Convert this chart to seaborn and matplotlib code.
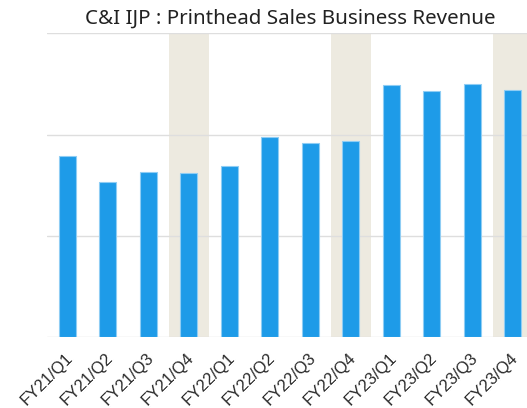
import matplotlib.pyplot as plt
import matplotlib.transforms as mtransforms
import pandas as pd
import seaborn as sns

QUARTERS = ["FY21/Q1", "FY21/Q2", "FY21/Q3", "FY21/Q4",
            "FY22/Q1", "FY22/Q2", "FY22/Q3", "FY22/Q4",
            "FY23/Q1", "FY23/Q2", "FY23/Q3", "FY23/Q4"]
REVENUE = [179, 153, 163, 162, 169, 198, 192, 194, 249, 243, 250, 244]
HIGHLIGHT = ["FY21/Q4", "FY22/Q4", "FY23/Q4"]
GRID_TICKS = [0, 100, 200, 300]

BAR_COLOR = "#1E9BE8"
BAND_COLOR = "#EDEAE0"
GRID_COLOR = "#DEDEDE"


def main():
    sns.set_style("white")
    df = pd.DataFrame({"quarter": QUARTERS, "revenue": REVENUE})

    fig = plt.figure(figsize=(5.27, 4.08), dpi=100)
    ax = fig.add_axes([47 / 527, 0.1733, 486 / 527, 0.745])

    for q in HIGHLIGHT:
        i = QUARTERS.index(q)
        ax.axvspan(i - 0.5, i + 0.5, color=BAND_COLOR, zorder=0, lw=0)

    sns.barplot(data=df, x="quarter", y="revenue", color=BAR_COLOR,
                width=0.41, edgecolor="#8FCDF4", linewidth=0.8,
                saturation=1, ax=ax, zorder=3)

    ax.set_xlim(-0.5, len(QUARTERS) - 0.5)
    ax.set_ylim(GRID_TICKS[0], GRID_TICKS[-1])
    ax.set_yticks(GRID_TICKS)
    ax.set_yticklabels([])
    ax.tick_params(axis="y", length=0)
    ax.tick_params(axis="x", length=0, pad=9)
    ax.yaxis.grid(True, color=GRID_COLOR, linewidth=1.0, zorder=1)
    ax.set_axisbelow(True)
    for side in ["top", "right", "left", "bottom"]:
        ax.spines[side].set_visible(False)

    ax.set_xlabel("")
    ax.set_ylabel("")
    ax.set_xticks(range(len(QUARTERS)))
    ax.set_xticklabels(QUARTERS, rotation=45, ha="right", rotation_mode="anchor",
                       fontsize=12, family="Liberation Sans", color="#2a2a2a")
    # nudge tick labels a couple of pixels left
    shift = mtransforms.ScaledTranslation(-0.025, 0, fig.dpi_scale_trans)
    for lbl in ax.get_xticklabels():
        lbl.set_transform(lbl.get_transform() + shift)

    ax.set_title("C&I IJP : Printhead Sales Business Revenue", fontsize=14.8,
                 family="Noto Sans", color="#222222", pad=7)

    fig.savefig("out.png", dpi=100)
    plt.close(fig)


if __name__ == "__main__":
    main()
